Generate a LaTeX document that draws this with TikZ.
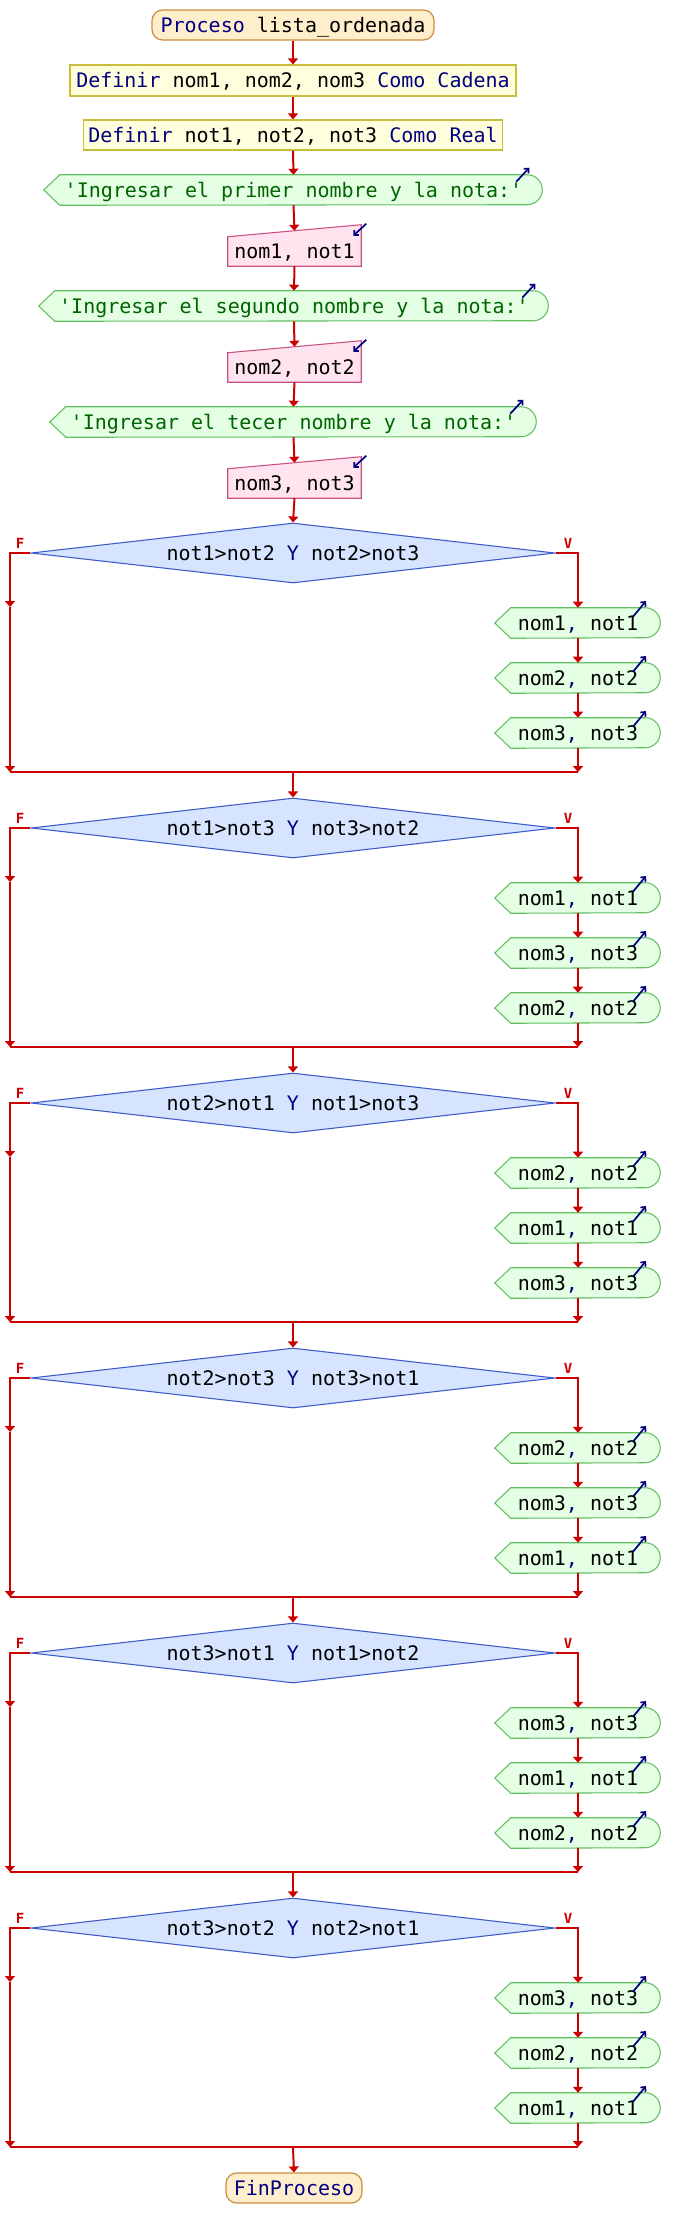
\documentclass[tikz,border=0pt]{standalone}
\usepackage{fontspec}
\setmonofont{DejaVu Sans Mono}
\usetikzlibrary{arrows.meta,backgrounds,shapes.geometric}
\definecolor{flowred}{RGB}{204,0,0}
\definecolor{kwblue}{RGB}{0,0,128}
\definecolor{strgreen}{RGB}{0,100,0}
\definecolor{startfill}{RGB}{255,238,204}
\definecolor{startdraw}{RGB}{204,140,60}
\definecolor{deffill}{RGB}{255,255,221}
\definecolor{defdraw}{RGB}{200,190,60}
\definecolor{outfill}{RGB}{228,255,228}
\definecolor{outdraw}{RGB}{100,190,100}
\definecolor{infill}{RGB}{255,228,240}
\definecolor{indraw}{RGB}{200,80,130}
\definecolor{decfill}{RGB}{214,228,255}
\definecolor{decdraw}{RGB}{60,90,200}
\newcommand\kw[1]{\textcolor{kwblue}{#1}}
\newcommand\strg[1]{\textcolor{strgreen}{#1}}
\newcommand\outshape[1]{\path[outsh] (#1.north west) -- (#1.north east) arc[start angle=90,end angle=-90,radius=11.25pt] -- (#1.south west) -- ([xshift=-12pt]#1.west) -- cycle;}
\newcommand\inshape[1]{\path[insh] (#1.north west) -- ([yshift=9pt]#1.north east) -- (#1.south east) -- (#1.south west) -- cycle;}
\tikzset{
 every node/.style={font=\ttfamily\fontsize{15}{18}\selectfont},
 base/.style={inner sep=0pt, text height=11pt, text depth=0pt, minimum height=22.5pt},
 startst/.style={base, draw=startdraw, fill=startfill, line width=0.9pt, rounded corners=8pt},
 defst/.style={base, draw=defdraw, fill=deffill, line width=0.9pt},
 body/.style={base},
 decst/.style={diamond, aspect=10, inner sep=0pt, text height=11pt, text depth=0pt, draw=decdraw, fill=decfill, line width=0.8pt, minimum width=393pt, minimum height=45pt},
 outsh/.style={draw=outdraw, fill=outfill, line width=0.8pt},
 insh/.style={draw=indraw, fill=infill, line width=0.8pt},
 line/.style={draw=flowred, line width=1.5pt},
 flow/.style={line, -{Triangle[width=7.5pt,length=4.5pt]}},
 glyph/.style={draw=kwblue, line width=1.3pt, -{Straight Barb[length=2.5pt,width=5pt]}},
 fv/.style={text=flowred, font=\ttfamily\bfseries\fontsize{10.5}{12}\selectfont, inner sep=0pt},
}
\begin{document}
\begin{tikzpicture}[x=0.75pt,y=-0.75pt]
\useasboundingbox (0,0) rectangle (678,2238);
% main column
\node[startst, minimum width=211.5pt] (start) at (293,25) {\kw{Proceso} lista\_ordenada};
\node[defst, minimum width=334.5pt, minimum height=23.25pt] (def1) at (293,80.5) {\kw{Definir} nom1, nom2, nom3 \kw{Como Cadena}};
\node[defst, minimum width=314.25pt] (def2) at (293,135) {\kw{Definir} not1, not2, not3 \kw{Como Real}};
\node[body, minimum width=350.25pt] (out1) at (293.5,190) {\strg{'Ingresar el primer nombre y la nota:'}};
\node[body, minimum width=99.75pt, minimum height=21.75pt] (in1) at (294.5,251.5) {nom1, not1};
\node[body, minimum width=358.5pt] (out2) at (294,306) {\strg{'Ingresar el segundo nombre y la nota:'}};
\node[body, minimum width=99.75pt, minimum height=21.75pt] (in2) at (294.5,367.5) {nom2, not2};
\node[body, minimum width=341.25pt] (out3) at (293.5,422) {\strg{'Ingresar el tecer nombre y la nota:'}};
\node[body, minimum width=99.75pt, minimum height=21.75pt] (in3) at (294.5,483.5) {nom3, not3};
\node[startst, minimum width=102pt] (end) at (294,2188) {\kw{FinProceso}};
% decision blocks
\foreach \k/\cond/\ka/\kb/\kc in {
 1/{not1>not2 \kw{Y} not2>not3}/1/2/3,
 2/{not1>not3 \kw{Y} not3>not2}/1/3/2,
 3/{not2>not1 \kw{Y} not1>not3}/2/1/3,
 4/{not2>not3 \kw{Y} not3>not1}/2/3/1,
 5/{not3>not1 \kw{Y} not1>not2}/3/1/2,
 6/{not3>not2 \kw{Y} not2>not1}/3/2/1}{
  \pgfmathsetmacro\dy{275*(\k-1)}
  \node[decst] (d\k) at (293,553+\dy) {\cond};
  \node[fv] (f\k) at (20,543+\dy) {F};
  \node[fv] (v\k) at (568,543+\dy) {V};
  \node[body, minimum width=100.5pt] (oa\k) at (578,623+\dy) {nom\ka\kw{,} not\ka};
  \node[body, minimum width=100.5pt] (ob\k) at (578,678+\dy) {nom\kb\kw{,} not\kb};
  \node[body, minimum width=100.5pt] (oc\k) at (578,733+\dy) {nom\kc\kw{,} not\kc};
  \coordinate (la\k) at (10,607+\dy);
  \coordinate (l\k) at (10,772+\dy);
  \coordinate (r\k) at (578,772+\dy);
  \coordinate (m\k) at (293,772+\dy);
}
% background shapes
\begin{scope}[on background layer]
 \foreach \n in {out1,out2,out3} {\outshape{\n}}
 \foreach \n in {in1,in2,in3} {\inshape{\n}}
 \foreach \k in {1,...,6} {\outshape{oa\k}\outshape{ob\k}\outshape{oc\k}}
\end{scope}
% glyphs
\foreach \n in {out1,out2,out3} {\draw[glyph] ([xshift=-8.25pt,yshift=-5.25pt]\n.north east) -- ([xshift=1.5pt,yshift=5.25pt]\n.north east);}
\foreach \n in {in1,in2,in3} {\draw[glyph] ([xshift=3.75pt,yshift=9.75pt]\n.north east) -- ([xshift=-6pt,yshift=0.75pt]\n.north east);}
\foreach \k in {1,...,6} {\foreach \o in {oa,ob,oc} {\draw[glyph] ([xshift=-9pt,yshift=-6.5pt]\o\k.north east) -- ([xshift=0.5pt,yshift=5pt]\o\k.north east);}}
% main connectors
\draw[flow] (start.south) -- (def1.north);
\draw[flow] (def1.south) -- (def2.north);
\draw[flow] (def2.south) -- (out1.north);
\draw[flow] (out1.south) -- ([yshift=4.5pt]in1.north);
\draw[flow] (in1.south) -- (out2.north);
\draw[flow] (out2.south) -- ([yshift=4.5pt]in2.north);
\draw[flow] (in2.south) -- (out3.north);
\draw[flow] (out3.south) -- ([yshift=4.5pt]in3.north);
\draw[flow] (in3.south) -- (d1.north);
\foreach \k in {1,...,6} {
  \draw[flow] (d\k.west) -| (la\k);
  \draw[flow] (la\k) -- (l\k);
  \draw[flow] (d\k.east) -| (oa\k.north);
  \draw[flow] (oa\k.south) -- (ob\k.north);
  \draw[flow] (ob\k.south) -- (oc\k.north);
  \draw[flow] (oc\k.south) -- (r\k);
  \draw[line] (l\k) -- (r\k);
}
\foreach \k [evaluate=\k as \n using int(\k+1)] in {1,...,5} {\draw[flow] (m\k) -- (d\n.north);}
\draw[flow] (m6) -- (end.north);
\end{tikzpicture}
\end{document}
